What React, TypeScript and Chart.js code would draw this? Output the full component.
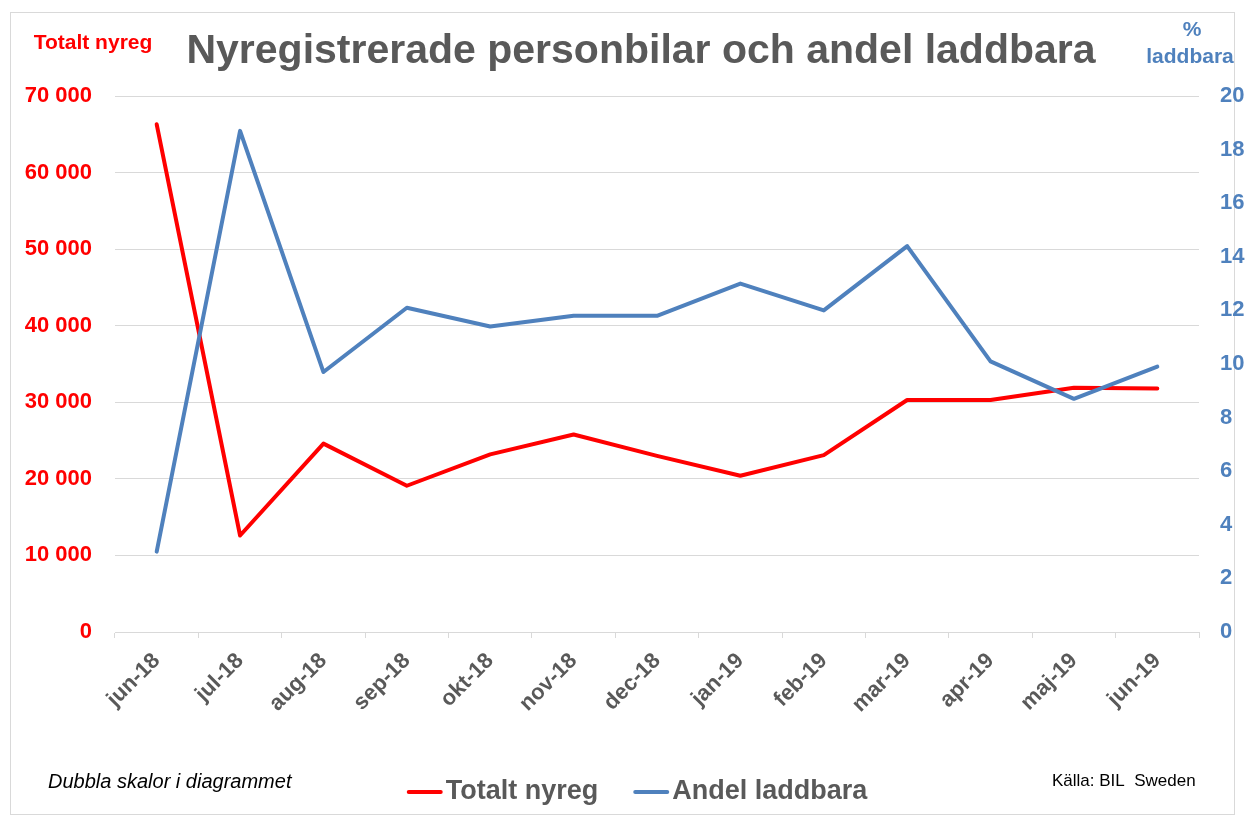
import React, { useEffect, useRef } from 'react';
import { Chart, registerables } from 'chart.js';

Chart.register(...registerables);

const months = ['jun-18', 'jul-18', 'aug-18', 'sep-18', 'okt-18', 'nov-18', 'dec-18', 'jan-19', 'feb-19', 'mar-19', 'apr-19', 'maj-19', 'jun-19'];
const totaltNyreg = [66300, 12600, 24600, 19100, 23200, 25800, 23000, 20400, 23100, 30300, 30300, 31900, 31800];
const andelLaddbara = [3.0, 18.7, 9.7, 12.1, 11.4, 11.8, 11.8, 13.0, 12.0, 14.4, 10.1, 8.7, 9.9];

const seriesNames = ['Totalt nyreg', 'Andel laddbara'];
const seriesColors = ['#FF0000', '#4F81BD'];

const chartTitle = 'Nyregistrerade personbilar och andel laddbara';
const leftAxisTitle = 'Totalt nyreg';
const rightAxisTitle = ['%', 'laddbara'];
const noteLeft = 'Dubbla skalor i diagrammet';
const noteRight = 'Källa: BIL  Sweden';

const FONT = '"Liberation Sans", Arial, sans-serif';
const W = 1245;
const H = 816;

const fmtThousands = (v: number) => String(v).replace(/\B(?=(\d{3})+(?!\d))/g, ' ');

const decorPlugin = {
  id: 'decor',
  beforeDraw(chart: any) {
    const ctx = chart.ctx;
    ctx.save();
    ctx.fillStyle = '#FFFFFF';
    ctx.fillRect(0, 0, W, H);
    ctx.strokeStyle = '#D9D9D9';
    ctx.lineWidth = 1;
    ctx.strokeRect(10.5, 12.5, 1224, 802);
    ctx.restore();
  },
  afterDraw(chart: any) {
    const ctx = chart.ctx;
    ctx.save();
    ctx.textBaseline = 'middle';

    // title
    ctx.fillStyle = '#595959';
    ctx.font = `bold 41px ${FONT}`;
    ctx.textAlign = 'center';
    ctx.fillText(chartTitle, 641, 52);

    // left axis title
    ctx.fillStyle = seriesColors[0];
    ctx.font = `bold 21px ${FONT}`;
    ctx.fillText(leftAxisTitle, 93, 43);

    // right axis title
    ctx.fillStyle = seriesColors[1];
    ctx.fillText(rightAxisTitle[0], 1192, 30);
    ctx.fillText(rightAxisTitle[1], 1190, 57);

    // notes
    ctx.fillStyle = '#000000';
    ctx.textAlign = 'left';
    ctx.font = `italic 20px ${FONT}`;
    ctx.fillText(noteLeft, 48, 782);
    ctx.font = `17px ${FONT}`;
    ctx.fillText(noteRight, 1052, 781);

    // legend
    const ds = chart.data.datasets;
    ctx.font = `bold 27px ${FONT}`;
    const lineLen = 36;
    const gapText = 3;
    const gapItems = 35;
    const widths = ds.map((d: any) => lineLen + gapText + ctx.measureText(d.label).width);
    const total = widths.reduce((a: number, b: number) => a + b, 0) + gapItems * (ds.length - 1);
    let x = 637 - total / 2;
    const y = 792;
    ds.forEach((d: any, i: number) => {
      ctx.strokeStyle = d.borderColor;
      ctx.lineWidth = 4;
      ctx.lineCap = 'round';
      ctx.beginPath();
      ctx.moveTo(x + 2, y);
      ctx.lineTo(x + lineLen - 2, y);
      ctx.stroke();
      ctx.fillStyle = '#595959';
      ctx.fillText(d.label, x + lineLen + gapText, y);
      x += widths[i] + gapItems;
    });
    ctx.restore();
  },
};

export default function App() {
  const ref = useRef<HTMLCanvasElement | null>(null);

  useEffect(() => {
    if (!ref.current) return;
    const chart = new Chart(ref.current, {
      type: 'line',
      data: {
        labels: months,
        datasets: [
          {
            label: seriesNames[0],
            data: totaltNyreg,
            yAxisID: 'yLeft',
            borderColor: seriesColors[0],
            backgroundColor: seriesColors[0],
            borderWidth: 4,
            pointRadius: 0,
            borderCapStyle: 'round',
            borderJoinStyle: 'round',
            tension: 0,
            order: 1,
          },
          {
            label: seriesNames[1],
            data: andelLaddbara,
            yAxisID: 'yRight',
            borderColor: seriesColors[1],
            backgroundColor: seriesColors[1],
            borderWidth: 4,
            pointRadius: 0,
            borderCapStyle: 'round',
            borderJoinStyle: 'round',
            tension: 0,
            order: 0,
          },
        ],
      },
      options: {
        responsive: false,
        maintainAspectRatio: false,
        animation: false,
        devicePixelRatio: 1,
        layout: { padding: { top: 96, left: 0, right: 0, bottom: 0 } },
        plugins: {
          legend: { display: false },
          title: { display: false },
          tooltip: { enabled: false },
        },
        scales: {
          x: {
            type: 'category',
            offset: true,
            grid: {
              offset: true,
              drawOnChartArea: false,
              drawTicks: true,
              tickLength: 6,
              color: '#D9D9D9',
            },
            border: { display: true, color: '#D9D9D9' },
            ticks: {
              autoSkip: false,
              maxRotation: 45,
              minRotation: 45,
              padding: 10,
              color: '#595959',
              font: { family: FONT, size: 22, weight: 'bold' },
            },
            afterFit: (s: any) => { s.height = 184; },
          },
          yLeft: {
            type: 'linear',
            position: 'left',
            min: 0,
            max: 70000,
            ticks: {
              stepSize: 10000,
              padding: 23,
              color: '#FF0000',
              font: { family: FONT, size: 22, weight: 'bold' },
              callback: (v: any) => fmtThousands(Number(v)),
            },
            grid: { color: '#D9D9D9', drawTicks: false },
            border: { display: false },
            afterFit: (s: any) => { s.width = 115; },
          },
          yRight: {
            type: 'linear',
            position: 'right',
            min: 0,
            max: 20,
            ticks: {
              stepSize: 2,
              padding: 21,
              color: '#4F81BD',
              font: { family: FONT, size: 22, weight: 'bold' },
            },
            grid: { drawOnChartArea: false, drawTicks: false },
            border: { display: false },
            afterFit: (s: any) => { s.width = 46; },
          },
        },
      },
      plugins: [decorPlugin],
    } as any);
    return () => chart.destroy();
  }, []);

  return (
    <div style={{ position: 'absolute', left: 0, top: 0, width: W, height: H, background: '#fff' }}>
      <canvas ref={ref} width={W} height={H} style={{ display: 'block', width: W, height: H }} />
    </div>
  );
}
